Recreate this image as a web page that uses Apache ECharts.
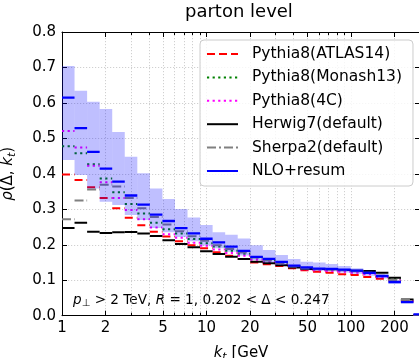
<!DOCTYPE html>
<html><head><meta charset="utf-8">
<script src="https://cdn.jsdelivr.net/npm/echarts@6/dist/echarts.min.js"></script>
<style>html,body{margin:0;padding:0;background:#fff}#c{width:419px;height:358px}</style>
</head><body><div id="c"></div>
<script>
// bin edges in kt [GeV]
const binEdges = [1, 1.221, 1.492, 1.822, 2.226, 2.718, 3.320, 4.055, 4.953, 6.050, 7.389, 9.025, 11.02, 13.46, 16.44, 20.09, 24.53, 29.96, 36.60, 44.70, 54.60, 66.69, 81.45, 99.48, 121.5, 148.4, 181.3, 221.4, 270.4, 330.3];
const atlas14 = [0.398, 0.383, 0.362, 0.332, 0.303, 0.276, 0.255, 0.237, 0.223, 0.210, 0.199, 0.190, 0.179, 0.169, 0.160, 0.150, 0.145, 0.140, 0.134, 0.128, 0.124, 0.121, 0.117, 0.115, 0.109, 0.104, 0.099, 0.040, 0.002];
const monash13 = [0.478, 0.458, 0.427, 0.387, 0.348, 0.315, 0.288, 0.262, 0.244, 0.232, 0.216, 0.204, 0.195, 0.183, 0.175, 0.164, 0.156, 0.147, 0.139, 0.133, 0.131, 0.130, 0.128, 0.125, 0.121, 0.112, 0.103, 0.044, 0.002];
const tune4C = [0.521, 0.474, 0.423, 0.376, 0.332, 0.298, 0.272, 0.249, 0.230, 0.220, 0.206, 0.197, 0.187, 0.177, 0.169, 0.158, 0.151, 0.144, 0.137, 0.131, 0.128, 0.126, 0.124, 0.121, 0.117, 0.109, 0.101, 0.042, 0.002];
const herwig7 = [0.247, 0.262, 0.237, 0.233, 0.235, 0.236, 0.232, 0.225, 0.213, 0.202, 0.193, 0.182, 0.174, 0.166, 0.160, 0.152, 0.148, 0.142, 0.136, 0.132, 0.132, 0.131, 0.129, 0.127, 0.126, 0.121, 0.107, 0.046, 0.002];
const sherpa2 = [0.272, 0.325, 0.356, 0.369, 0.364, 0.332, 0.303, 0.278, 0.257, 0.238, 0.224, 0.211, 0.199, 0.188, 0.178, 0.164, 0.156, 0.147, 0.139, 0.133, 0.131, 0.130, 0.128, 0.125, 0.121, 0.113, 0.101, 0.045, 0.002];
const nloResum = [0.615, 0.529, 0.462, 0.415, 0.378, 0.339, 0.313, 0.285, 0.267, 0.247, 0.232, 0.217, 0.207, 0.195, 0.183, 0.166, 0.160, 0.152, 0.141, 0.136, 0.133, 0.132, 0.130, 0.127, 0.121, 0.112, 0.095, 0.038, 0.004];
const nloUpper = [0.704, 0.634, 0.603, 0.583, 0.518, 0.448, 0.402, 0.359, 0.329, 0.301, 0.277, 0.256, 0.235, 0.228, 0.218, 0.199, 0.185, 0.171, 0.160, 0.152, 0.150, 0.146, 0.140, 0.134, 0.127, 0.116, 0.098, 0.040, 0.006];
const nloLower = [0.439, 0.397, 0.359, 0.321, 0.312, 0.284, 0.270, 0.247, 0.235, 0.222, 0.210, 0.198, 0.190, 0.180, 0.170, 0.157, 0.151, 0.144, 0.135, 0.128, 0.127, 0.125, 0.122, 0.118, 0.113, 0.105, 0.090, 0.035, 0.002];
const xMajorTicks = [1, 2, 5, 10, 20, 50, 100, 200];
const xMinorTicks = [3, 4, 6, 7, 8, 9, 30, 40, 60, 70, 80, 90, 300];
const xMin = 1, xMax = 300;

const FONT = 'DejaVu Sans';
const lg = v => Math.log10(v);
const gridLine = {show: true, lineStyle: {color: '#c4c4c4', width: 0.8, type: [1.2, 1.8]}};

function xAxisDef(pos, ticks, len, showLine, showLabel, showSplit, extra) {
  return Object.assign({
    type: 'value', min: lg(xMin), max: lg(xMax), position: pos, gridIndex: 0,
    axisLine: {show: showLine, onZero: false, lineStyle: {color: '#000', width: 1}},
    axisTick: {show: true, inside: true, length: len, customValues: ticks.map(lg), lineStyle: {color: '#000', width: 1}},
    axisLabel: showLabel ? {show: true, customValues: xMajorTicks.map(lg), formatter: v => String(Math.round(Math.pow(10, v))), fontSize: 15, color: '#000', fontFamily: FONT, margin: 5} : {show: false},
    splitLine: showSplit ? Object.assign({}, gridLine) : {show: false}
  }, extra || {});
}

function stepSeries(name, vals, color, width, dash, z) {
  return {
    type: 'custom', name: name + '_bins', silent: true, clip: true, z: z,
    xAxisIndex: 0, yAxisIndex: 0,
    data: vals.map((v, i) => [lg(binEdges[i]), lg(binEdges[i + 1]), v]),
    encode: {x: [0, 1], y: 2},
    renderItem: (params, api) => {
      const a = api.coord([api.value(0), api.value(2)]);
      const b = api.coord([api.value(1), api.value(2)]);
      return {type: 'line', shape: {x1: a[0], y1: a[1], x2: b[0], y2: b[1]},
        style: {stroke: color, lineWidth: width, lineDash: dash, lineCap: 'butt', fill: null}};
    }
  };
}
function legendSeries(name, color, width, dash) {
  return {type: 'line', name: name, data: [], symbol: 'none', showSymbol: false, xAxisIndex: 0, yAxisIndex: 0,
    lineStyle: {color: color, width: width, type: dash || 'solid'}, itemStyle: {color: color, opacity: 0}};
}

const bandSeries = {
  type: 'custom', name: 'band', silent: true, clip: true, z: 3,
  xAxisIndex: 0, yAxisIndex: 0,
  data: nloUpper.map((u, i) => [lg(binEdges[i]), lg(binEdges[i + 1]), nloLower[i], u]),
  encode: {x: [0, 1], y: [2, 3]},
  renderItem: (params, api) => {
    const a = api.coord([api.value(0), api.value(3)]);
    const b = api.coord([api.value(1), api.value(2)]);
    return {type: 'rect', shape: {x: a[0], y: a[1], width: b[0] - a[0], height: b[1] - a[1]},
      style: {fill: 'rgba(0,0,255,0.25)'}};
  }
};

const names = ['Pythia8(ATLAS14)', 'Pythia8(Monash13)', 'Pythia8(4C)', 'Herwig7(default)', 'Sherpa2(default)', 'NLO+resum'];
const dashA = [8, 4], dotG = [2.2, 3.4], dashDot = [9, 3, 2, 3];

const chart = echarts.init(document.getElementById('c'), null, {renderer: 'canvas'});
chart.setOption({
  animation: false,
  backgroundColor: '#fff',
  textStyle: {fontFamily: FONT},
  title: {text: 'parton level', left: 185, top: 3, padding: 0,
    textStyle: {fontSize: 18, fontWeight: 'normal', color: '#000', fontFamily: FONT}},
  grid: {left: 62, top: 32, right: -1, bottom: 42.3, containLabel: false, outerBoundsMode: 'none'},
  legend: {
    show: true, orient: 'vertical', left: 200, top: 40,
    data: names, itemWidth: 31, itemHeight: 14, itemGap: 7.4,
    padding: [6, 11, 7, 6], borderColor: '#cccccc', borderWidth: 1, borderRadius: 4,
    backgroundColor: 'rgba(255,255,255,0.8)',
    itemStyle: {opacity: 0},
    textStyle: {fontSize: 15.5, color: '#000', fontFamily: FONT, padding: [0, 0, 0, 9]},
    selectedMode: false
  },
  xAxis: [
    xAxisDef('bottom', xMajorTicks, 5, true, true, true, {
      name: '{i|k}{s|t} [GeV', nameLocation: 'middle', nameGap: 28, nameMoveOverlap: false,
      nameTextStyle: {fontSize: 15, color: '#000', fontFamily: FONT,
        rich: {i: {fontStyle: 'italic', fontSize: 15, fontFamily: FONT, color: '#000'},
               s: {fontStyle: 'italic', fontSize: 11, fontFamily: FONT, color: '#000', padding: [8, 0, 0, 0]}}}
    }),
    xAxisDef('bottom', xMinorTicks, 3, false, false, true),
    xAxisDef('top', xMajorTicks, 5, true, false, false),
    xAxisDef('top', xMinorTicks, 3, false, false, false)
  ],
  yAxis: [
    {type: 'value', min: 0, max: 0.8, interval: 0.1, position: 'left',
      axisLine: {show: true, onZero: false, lineStyle: {color: '#000', width: 1}},
      axisTick: {show: true, inside: true, length: 5, lineStyle: {color: '#000', width: 1}},
      axisLabel: {formatter: v => v.toFixed(1), fontSize: 15, color: '#000', fontFamily: FONT, margin: 6},
      splitLine: Object.assign({}, gridLine),
      name: '{i|ρ}(Δ, {i|k}{s|t})', nameLocation: 'middle', nameRotate: 90, nameGap: 44, nameMoveOverlap: false,
      nameTextStyle: {fontSize: 15, color: '#000', fontFamily: FONT,
        rich: {i: {fontStyle: 'italic', fontSize: 15, fontFamily: FONT, color: '#000'},
               s: {fontStyle: 'italic', fontSize: 11, fontFamily: FONT, color: '#000', padding: [8, 0, 0, 0]}}}
    },
    {type: 'value', min: 0, max: 0.8, interval: 0.1, position: 'right',
      axisLine: {show: true, onZero: false, lineStyle: {color: '#000', width: 1}},
      axisTick: {show: true, inside: true, length: 5, lineStyle: {color: '#000', width: 1}},
      axisLabel: {show: false}, splitLine: {show: false}}
  ],
  graphic: [{
    type: 'text', left: 73, top: 293, silent: true,
    style: {text: '{i|p}{s|⊥} > 2 TeV, {i|R} = 1, 0.202 < Δ < 0.247', fontSize: 13.6, fontFamily: FONT, fill: '#000',
      rich: {i: {fontStyle: 'italic', fontSize: 13.6, fontFamily: FONT, fill: '#000'},
             s: {fontSize: 10, fontFamily: FONT, fill: '#000', padding: [7, 0, 0, 0]}}}
  }],
  series: [
    legendSeries(names[0], '#ff0000', 2, dashA),
    legendSeries(names[1], '#008000', 2, dotG),
    legendSeries(names[2], '#ff00ff', 2, dotG),
    legendSeries(names[3], '#000000', 2, 'solid'),
    legendSeries(names[4], '#808080', 2, dashDot),
    legendSeries(names[5], '#0000ff', 2, 'solid'),
    stepSeries(names[0], atlas14, '#ff0000', 2, dashA, 2),
    stepSeries(names[1], monash13, '#008000', 2, dotG, 2),
    stepSeries(names[2], tune4C, '#ff00ff', 2, dotG, 2),
    stepSeries(names[3], herwig7, '#000000', 2, null, 2),
    stepSeries(names[4], sherpa2, '#808080', 2, dashDot, 2),
    bandSeries,
    stepSeries(names[5], nloResum, '#0000ff', 2.3, null, 4)
  ]
});
</script></body></html>
